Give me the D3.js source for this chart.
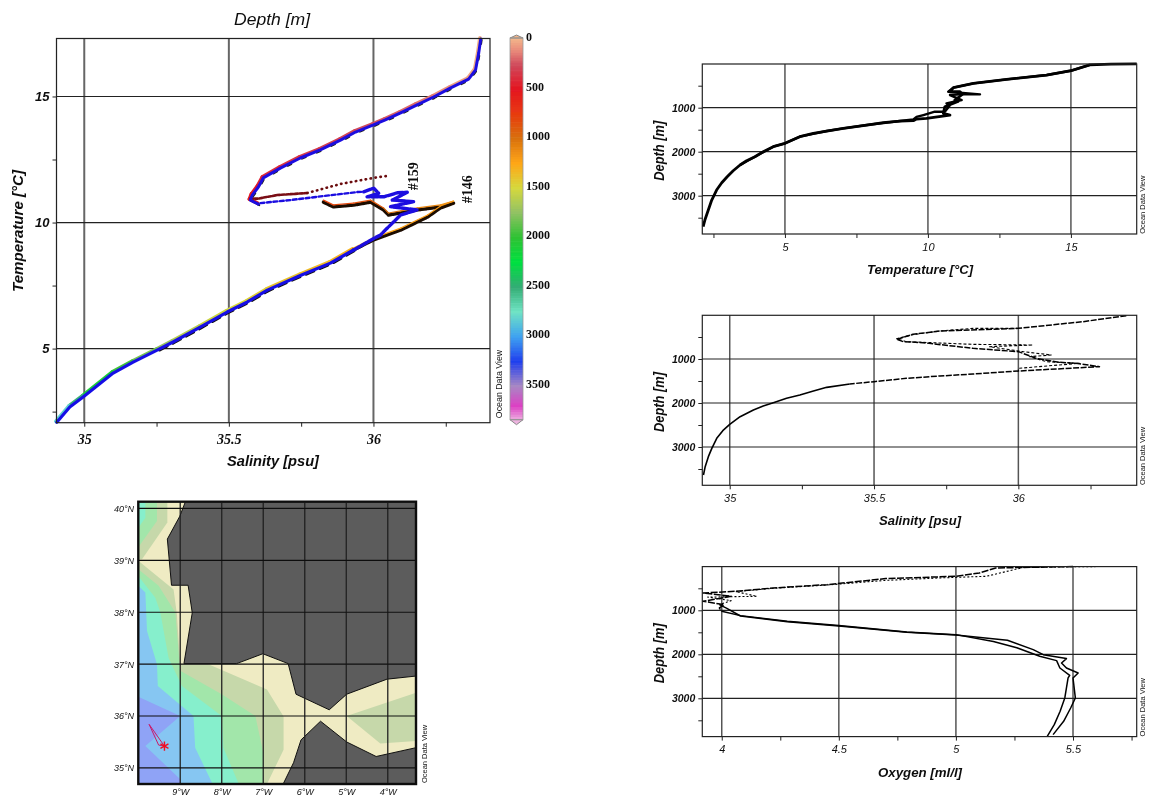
<!DOCTYPE html>
<html><head><meta charset="utf-8">
<script src="https://cdn.jsdelivr.net/npm/d3@7"></script>
<style>
html,body{margin:0;padding:0;background:#fff;overflow:hidden}
text{font-family:"Liberation Sans",Arial,sans-serif;fill:#111}
.bi{font-weight:bold;font-style:italic}
.it{font-style:italic}
.sbi{font-family:"Liberation Serif",serif;font-weight:bold;font-style:italic}
</style></head><body>
<script>
// ---------- T-S diagram: [salinity, temperature, depth]
const tsUpperLimb=[[36.371,17.28,5],[36.364,16.73,20],[36.353,16.05,40],[36.329,15.69,60],[36.267,15.34,100],[36.208,14.98,160],[36.149,14.66,190],[36.094,14.35,215],[36.041,14.07,240],[36.0,13.87,255],[35.938,13.59,280],[35.886,13.27,300],[35.816,12.88,330],[35.747,12.56,360],[35.678,12.16,400],[35.619,11.77,440],[35.602,11.41,480],[35.581,11.09,530],[35.574,10.89,560],[35.602,10.73,590]];
const tsRedLobe=[[35.574,10.95,570],[35.602,10.95,590],[35.667,11.09,620],[35.771,11.17,640],[35.886,11.53,660],[36.0,11.77,690],[36.048,11.85,700]];
const tsBlueBranch=[[35.609,10.77,600],[35.712,10.89,630],[35.827,11.05,680],[35.945,11.21,740],[35.966,11.22,760],[36.001,11.36,780],[36.018,11.16,800],[35.978,11.02,820],[36.036,11.02,840],[36.082,11.18,860],[36.117,11.20,880],[36.065,10.89,900],[36.14,10.83,950],[36.059,10.63,980],[36.151,10.50,1020],[36.094,10.30,1100],[36.047,9.77,1180],[36.024,9.50,1230],[36.001,9.37,1260],[35.931,8.91,1310]];
const tsBlackBranch=[[35.827,10.81,800],[35.861,10.62,820],[35.931,10.69,860],[35.99,10.81,900],[36.035,10.50,980],[36.052,10.30,1020],[36.094,10.38,1060],[36.152,10.50,1100],[36.232,10.62,1150],[36.277,10.77,1170],[36.232,10.58,1190],[36.187,10.22,1210],[36.094,9.70,1240],[36.0,9.31,1270],[35.931,8.91,1310]];
const tsLowerLimb=[[35.931,8.91,1310],[35.851,8.39,1350],[35.747,7.9,1390],[35.633,7.32,1450],[35.564,6.85,1500],[35.494,6.45,1540],[35.401,5.85,1620],[35.307,5.26,1740],[35.252,4.94,1820],[35.169,4.46,1960],[35.1,4.03,2100],[34.996,3.08,2520],[34.95,2.68,2820],[34.905,2.08,3750]];

// ---------- depth colour bar
const barDepths=[0,120,260,500,750,1000,1250,1500,1750,2000,2250,2500,2750,3000,3250,3500,3700,3870];
const barColours=["#f2b48a","#e8897a","#cf4a5c","#e31522","#e83a10","#d8700f","#ffa616","#d6d83c","#92c264","#2fc233","#00e040","#33ad74","#6fe3c4","#3fa3f0","#1f3fee","#a888c4","#dc40c4","#f0c4e4"];
const barTicks=[0,500,1000,1500,2000,2500,3000,3500];

// ---------- depth profiles: [value, depth]
const temp146=[[17.3,5],[16.4,8],[15.66,25],[15.0,160],[14.15,258],[12.75,356],[11.59,447],[10.89,545],[10.75,636],[11.12,636],[11.2,700],[10.94,826],[11.05,860],[10.59,977],[10.54,1129],[10.77,1167],[9.95,1242],[9.6,1258],[9.49,1295],[9.02,1303],[8.44,1341],[7.86,1394],[7.04,1470],[6.46,1530],[5.99,1583],[5.52,1659],[5,1810],[4.59,1886],[4.24,2000],[3.95,2114],[3.66,2205],[3.43,2303],[3.19,2432],[2.98,2568],[2.79,2705],[2.61,2871],[2.44,3099],[2.32,3326],[2.20,3553],[2.14,3705]];
const temp159=[[15.66,25],[15.0,160],[14.15,258],[12.75,356],[11.59,447],[10.89,545],[10.71,636],[11.82,697],[11.12,697],[10.77,712],[11.18,826],[10.65,902],[10.75,960],[10.59,1091],[10.24,1091],[9.84,1167],[9.6,1210],[9.49,1265],[9.02,1303],[7.86,1394],[7.04,1470],[6.46,1530],[5.52,1659],[5,1810],[4.59,1886],[3.95,2114],[3.43,2303]];
const sal146=[[36.374,15],[36.224,152],[36,303],[35.728,364],[35.635,439],[35.578,553],[35.601,606],[35.67,629],[35.843,758],[36,833],[36.062,985],[36.143,1076],[36.2,1098],[36.281,1174],[36.131,1227],[36,1273],[35.843,1341],[35.728,1386],[35.612,1439],[35.5,1515],[35.416,1568],[35.336,1644],[35.29,1727],[35.243,1818],[35.197,1894],[35.151,1992],[35.116,2068],[35.082,2159],[35.036,2311],[35,2485],[34.976,2629],[34.955,2803],[34.938,3030],[34.926,3220],[34.915,3447],[34.909,3636]];
const sal159=[[36,303],[35.843,303],[35.728,364],[35.635,445],[35.578,540],[35.612,606],[35.843,667],[36.05,682],[35.9,720],[36.016,833],[36.114,909],[36.039,947],[36.097,1061],[36.212,1098],[36,1212],[36,1273]];
const oxy146=[[5.5,5],[5.17,38],[5.10,152],[5.0,227],[4.70,280],[4.45,417],[4.22,492],[4.06,568],[3.92,606],[4.04,682],[3.92,795],[4.01,871],[3.99,947],[4,1023],[4.08,1121],[4.28,1250],[4.5,1348],[4.79,1492],[5,1553],[5.16,1710],[5.26,1850],[5.358,2045],[5.43,2144],[5.444,2311],[5.486,2477],[5.479,2538],[5.472,2765],[5.465,2992],[5.445,3295],[5.42,3599],[5.39,3864]];
const oxy159=[[5.77,3],[5.5,8],[5.29,23],[5.13,227],[4.93,265],[4.70,320],[4.45,425],[4.22,500],[4.06,575],[4.15,682],[3.94,700],[4.04,780],[3.99,871],[4.02,950],[4.08,1130],[4.28,1258],[4.5,1356],[4.79,1500],[5,1560],[5.22,1680],[5.33,1894],[5.373,2008],[5.472,2098],[5.451,2197],[5.472,2311],[5.522,2424],[5.50,2538],[5.51,2992],[5.49,3220],[5.46,3523],[5.415,3826]];

// ---------- map polygons: [lon, lat]
const landNorth=[[-8.87,40.14],[-9.01,39.85],[-9.31,39.41],[-9.21,38.52],[-8.81,38.52],[-8.71,37.99],[-8.91,37.01],[-7.64,37.01],[-7.01,37.20],[-6.40,37.01],[-6.21,36.42],[-5.41,36.12],[-4.99,36.42],[-4.02,36.71],[-3.32,36.77],[-3.32,40.14]];
const landSouth=[[-6.52,34.69],[-6.27,35.10],[-6.09,35.54],[-5.62,35.90],[-4.99,35.50],[-4.28,35.22],[-3.32,35.39],[-3.32,34.69]];
const olive1=[[-9.31,40.14],[-9.31,39.73],[-9.92,39.02],[-10.01,39.02],[-10.01,40.14]];
const green1=[[-9.56,40.14],[-9.56,39.76],[-10.01,39.25],[-10.01,40.14]];
const aqua1=[[-9.84,40.14],[-9.84,39.82],[-10.01,39.63],[-10.01,40.14]];
const olive2=[[-10.01,38.99],[-9.16,38.44],[-9.08,37.96],[-9,37.0],[-8.32,37.0],[-6.91,36.51],[-6.51,35.99],[-6.51,35.35],[-6.91,34.69],[-10.01,34.69]];
const olive3=[[-4.99,36],[-3.32,36.45],[-3.32,35.52],[-4.18,35.47]];
const green2=[[-10.01,38.83],[-9.52,38.51],[-9.12,38.0],[-9,36.87],[-8,36.42],[-7.19,36],[-6.99,35.26],[-6.99,34.69],[-10.01,34.69]];
const aqua2=[[-10.01,38.70],[-9.6,38.28],[-9.48,38.0],[-9.28,37.12],[-8.96,36.58],[-8,36],[-7.96,35.39],[-7.59,34.69],[-10.01,34.69]];
const sky=[[-10.01,38.51],[-9.84,38.38],[-9.80,37.64],[-9.56,37.0],[-9.54,36.58],[-8.68,36],[-8.64,35.39],[-8.22,34.69],[-10.01,34.69]];
const violet=[[-10.01,36.37],[-9,36],[-9.84,35.42],[-9,34.78],[-9,34.69],[-10.01,34.69]];
const track=[[-9.75,35.84],[-9.38,35.42],[-9.52,35.44],[-9.75,35.84]];
const stationMark=[-9.38,35.42];
const lonTicks=[-9,-8,-7,-6,-5,-4], latTicks=[35,36,37,38,39,40];

const svg=d3.select("body").append("svg").attr("width",1149).attr("height",798).style("display","block");
const defs=svg.append("defs");
defs.append("filter").attr("id","soft").attr("x",0).attr("y",0).attr("width","100%").attr("height","100%")
  .append("feGaussianBlur").attr("stdDeviation",0.45);
const root=svg.append("g").attr("filter","url(#soft)");

function frame(g,x,y,o){
  const b=y.range()[0],t=y.range()[1],l=x.range()[0],r=x.range()[1];
  g.append("g").selectAll("line").data(o.xMajor).join("line")
    .attr("x1",d=>x(d)).attr("x2",d=>x(d)).attr("y1",t).attr("y2",b).attr("stroke",o.vCol||"#555").attr("stroke-width",o.vW||1.5);
  g.append("g").selectAll("line").data(o.yMajor).join("line")
    .attr("y1",d=>y(d)).attr("y2",d=>y(d)).attr("x1",l).attr("x2",r).attr("stroke","#222").attr("stroke-width",1.2);
}
function axes(g,x,y,o){
  const b=y.range()[0],l=x.range()[0];
  const ax=d3.axisBottom(x).tickValues(o.xAll).tickSize(4).tickPadding(o.xPad).tickFormat(d=>o.xMajor.includes(d)?String(d):"");
  const ay=d3.axisLeft(y).tickValues(o.yAll).tickSize(4).tickPadding(o.yPad).tickFormat(d=>o.yMajor.includes(d)?String(d):"");
  const gx=g.append("g").attr("transform",`translate(0,${b})`).call(ax);
  const gy=g.append("g").attr("transform",`translate(${l},0)`).call(ay);
  [gx,gy].forEach(a=>{a.select(".domain").remove();a.selectAll("line").attr("stroke","#222");});
  gx.selectAll("text").attr("class",o.xCls).style("font-size",o.xFs+"px");
  gy.selectAll("text").attr("class",o.yCls).style("font-size",o.yFs+"px");
  g.append("rect").attr("x",l).attr("y",y.range()[1]).attr("width",x.range()[1]-l).attr("height",b-y.range()[1])
    .attr("fill","none").attr("stroke","#222").attr("stroke-width",1.2);
}
function odv(x,yc,fs){
  root.append("text").attr("transform",`translate(${x},${yc}) rotate(-90)`).attr("text-anchor","middle")
    .style("font-size",(fs||7.5)+"px").text("Ocean Data View");
}
function label(txt,x,y,fs,rot,len){
  const t=root.append("text").attr("class","bi").attr("text-anchor","middle").style("font-size",fs+"px").text(txt)
    .attr("transform",`translate(${x},${y})`+(rot?" rotate(-90)":""));
  if(len) t.attr("textLength",len).attr("lengthAdjust","spacingAndGlyphs");
  return t;
}

// ---------- main T-S plot
const xS=d3.scaleLinear().domain([34.904,36.403]).range([56.5,490]);
const yT=d3.scaleLinear().domain([2.06,17.3]).range([422.7,38.5]);
const gTS=root.append("g");
const tsOpt={xMajor:[35,35.5,36],yMajor:[5,10,15],xAll:[35,35.25,35.5,35.75,36,36.25],yAll:[2.5,5,7.5,10,12.5,15],xPad:7,yPad:3,xCls:"sbi",yCls:"bi",xFs:14,yFs:13,vCol:"#666",vW:2};
frame(gTS,xS,yT,tsOpt);
const colour=d3.scaleLinear().domain(barDepths).range(barColours);
function colouredLine(rows,w,dx,dy){
  gTS.append("g").attr("transform",`translate(${dx},${dy})`).selectAll("line").data(d3.pairs(rows)).join("line")
    .attr("x1",d=>xS(d[0][0])).attr("y1",d=>yT(d[0][1])).attr("x2",d=>xS(d[1][0])).attr("y2",d=>yT(d[1][1]))
    .attr("stroke",d=>colour(d[0][2])).attr("stroke-width",w).attr("stroke-linecap","round");
}
const tsLine=d3.line().x(d=>xS(d[0])).y(d=>yT(d[1]));
function plainLine(rows,stroke,w,dx,dy,dash){
  gTS.append("path").attr("d",tsLine(rows)).attr("fill","none").attr("stroke",stroke).attr("stroke-width",w)
    .attr("stroke-linejoin","round").attr("stroke-linecap","round").attr("transform",`translate(${dx},${dy})`)
    .attr("stroke-dasharray",dash||null);
}
colouredLine(tsUpperLimb,3.8,-0.8,-1);
colouredLine(tsLowerLimb,3.8,-0.8,-1);
plainLine(tsUpperLimb,"#221",2,0.9,1,"4 12");
plainLine(tsLowerLimb.slice(0,9),"#111",2.2,0.9,1.1,"9 6");
plainLine(tsBlackBranch,"#1a0a00",3.4,0,0,"5 0.8");
colouredLine(tsBlackBranch,1.2,0,-2);
plainLine(tsRedLobe.slice(0,4),"#7a0f14",2.6,0,0,"3 1.5");
plainLine(tsRedLobe.slice(3),"#6a0a10",2.6,0,0,"0.5 4.5");
plainLine(tsUpperLimb,"#1c10e0",3,0,0);
plainLine(tsBlueBranch.slice(0,5),"#1c10e0",2.4,0,0,"4 2.5");
plainLine(tsBlueBranch.slice(4),"#1c10e0",3.4,0,0,"7 1.5");
plainLine(tsLowerLimb,"#1810e6",3.2,0,0);
axes(gTS,xS,yT,tsOpt);
root.append("text").attr("class","it").attr("x",272).attr("y",25).attr("text-anchor","middle").style("font-size","16px").attr("textLength",76).attr("lengthAdjust","spacingAndGlyphs").text("Depth [m]");
label("Salinity [psu]",273,466,14.5,false,92);
label("Temperature [°C]",23,231,14.5,true,122);
odv(502,384,8.8);
[["#159",xS(36.155),yT(11.84)],["#146",xS(36.34),yT(11.32)]].forEach(d=>{
  root.append("text").attr("transform",`translate(${d[1]},${d[2]}) rotate(-90)`)
   .attr("text-anchor","middle").style("font-family","'Liberation Serif',serif").style("font-weight","bold").style("font-size","14px")
   .attr("textLength",28).attr("lengthAdjust","spacingAndGlyphs").text(d[0]);
});

// ---------- colour bar
const barY=d3.scaleLinear().domain([0,3500]).range([38,385]);
const gBar=root.append("g");
gBar.selectAll("rect").data(d3.pairs(d3.range(0,3875,25))).join("rect")
  .attr("x",510).attr("width",13).attr("y",d=>barY(d[0])).attr("height",d=>barY(d[1])-barY(d[0])+0.6).attr("fill",d=>colour(d[0]));
gBar.append("path").attr("d",`M510,${barY(0)}L516.5,${barY(0)-3}L523,${barY(0)}Z`).attr("fill",colour(0)).attr("stroke","#888");
gBar.append("path").attr("d",`M510,${barY(3850)}L516.5,${barY(3850)+5}L523,${barY(3850)}Z`).attr("fill",colour(3850)).attr("stroke","#888");
gBar.append("rect").attr("x",510).attr("y",barY(0)).attr("width",13).attr("height",barY(3850)-barY(0)).attr("fill","none").attr("stroke","#999").attr("stroke-width",0.8);
gBar.selectAll("text").data(barTicks).join("text").attr("x",526).attr("y",d=>barY(d)+3)
  .style("font-family","'Liberation Serif',serif").style("font-weight","bold").style("font-size","12px").text(d=>d);

// ---------- depth profile panels
function profile(o){
  const x=d3.scaleLinear().domain(o.xDomain).range([702.3,1136.7]);
  const y=d3.scaleLinear().domain([1000,3000]).range([o.y1000,o.y1000+88]);
  const top=o.y1000-43.7,bot=o.y1000+126.3;
  const yy=d3.scaleLinear().domain([y.invert(bot),y.invert(top)]).range([bot,top]);
  const g=root.append("g");
  const opt={xMajor:o.xMajor,yMajor:[1000,2000,3000],xAll:o.xAll,yAll:[500,1000,1500,2000,2500,3000,3500],xPad:5,yPad:3,xCls:"it",yCls:"bi",xFs:11,yFs:10.5};
  frame(g,x,yy,opt);
  const ln=d3.line().x(d=>x(d[0])).y(d=>yy(d[1]));
  const draw=(rows,w,dash)=>g.append("path").attr("d",ln(rows)).attr("fill","none").attr("stroke","#000").attr("stroke-width",w).attr("stroke-linejoin","round").attr("stroke-dasharray",dash||null);
  o.series.forEach(s=>draw(s.rows,s.w,s.dash));
  axes(g,x,yy,opt);
  label(o.xLabel,920,o.labelY,13.5,false,o.labelLen);
  label("Depth [m]",664,o.y1000+43,14,true,60);
  odv(1145,o.y1000+97,7.5);
}
profile({xDomain:[2.11,17.3],y1000:107.7,xMajor:[5,10,15],xAll:[2.5,5,7.5,10,12.5,15],xLabel:"Temperature [°C]",labelY:274,labelLen:106,
  series:[{rows:temp146,w:2.8},{rows:temp159,w:2.4}]});
profile({xDomain:[34.905,36.41],y1000:359,xMajor:[35,35.5,36],xAll:[35,35.25,35.5,35.75,36,36.25],xLabel:"Salinity [psu]",labelY:525,labelLen:82,
  series:[{rows:sal146.slice(0,21),w:1.5,dash:"6 1.5"},{rows:sal146.slice(20),w:1.6},{rows:sal159,w:1.1,dash:"3 2"}]});
profile({xDomain:[3.917,5.772],y1000:610.3,xMajor:[4,4.5,5,5.5],xAll:[4,4.25,4.5,4.75,5,5.25,5.5,5.75],xLabel:"Oxygen [ml/l]",labelY:777,labelLen:84,
  series:[{rows:oxy146.slice(0,14),w:1.5,dash:"7 1.5"},{rows:oxy146.slice(13),w:1.5},{rows:oxy159.slice(0,13),w:1.1,dash:"2 2"},{rows:oxy159.slice(12),w:1.5}]});

// ---------- map
const xLon=d3.scaleLinear().domain([-10.01,-3.32]).range([138.3,416]);
const yLat=d3.scaleLinear().domain([34.69,40.13]).range([784,501.7]);
const gMap=root.append("g");
defs.append("clipPath").attr("id","mapClip").append("rect").attr("x",138.3).attr("y",501.7).attr("width",277.7).attr("height",282.3);
const area=gMap.append("g").attr("clip-path","url(#mapClip)");
const poly=d3.line().x(d=>xLon(d[0])).y(d=>yLat(d[1])).curve(d3.curveLinearClosed);
area.append("rect").attr("x",138.3).attr("y",501.7).attr("width",277.7).attr("height",282.3).attr("fill","#efebc3");
[[olive1,"#c6d8aa"],[green1,"#a2e6aa"],[aqua1,"#86efcc"],[olive2,"#c6d8aa"],[olive3,"#c6d8aa"],[green2,"#a2e6aa"],[aqua2,"#86efcc"],[sky,"#86c6f2"],[violet,"#8fa3f6"]]
  .forEach(p=>area.append("path").attr("d",poly(p[0])).attr("fill",p[1]));
[landNorth,landSouth].forEach(p=>area.append("path").attr("d",poly(p)).attr("fill","#5b5b5b").attr("stroke","#111").attr("stroke-width",1));
area.append("path").attr("d",poly(track)).attr("fill","none").attr("stroke","#c81a6a").attr("stroke-width",1);
area.append("path").attr("d",d3.symbol(d3.symbolAsterisk||d3.symbolCross,60)()).attr("transform",`translate(${xLon(stationMark[0])},${yLat(stationMark[1])})`)
  .attr("fill","none").attr("stroke","#f01020").attr("stroke-width",1.4);
area.selectAll(".lo").data(lonTicks).join("line").attr("class","lo").attr("x1",d=>xLon(d)).attr("x2",d=>xLon(d)).attr("y1",501).attr("y2",784).attr("stroke","#222").attr("stroke-width",1.3);
area.selectAll(".la").data(latTicks).join("line").attr("class","la").attr("y1",d=>yLat(d)).attr("y2",d=>yLat(d)).attr("x1",138).attr("x2",416).attr("stroke","#111").attr("stroke-width",1.2);
gMap.append("rect").attr("x",138.3).attr("y",501.7).attr("width",277.7).attr("height",282.3).attr("fill","none").attr("stroke","#111").attr("stroke-width",2.4);
const axLon=d3.axisBottom(xLon).tickValues(lonTicks).tickSize(0).tickPadding(5).tickFormat(d=>Math.abs(d)+"°W");
const axLat=d3.axisLeft(yLat).tickValues(latTicks).tickSize(0).tickPadding(4).tickFormat(d=>d+"°N");
const gLon=gMap.append("g").attr("transform","translate(0,784)").call(axLon);
const gLat=gMap.append("g").attr("transform","translate(138,0)").call(axLat);
[gLon,gLat].forEach(a=>{a.select(".domain").remove();a.selectAll("text").attr("class","it").style("font-size","9px");});
odv(427,754,7.5);
</script>
</body></html>
